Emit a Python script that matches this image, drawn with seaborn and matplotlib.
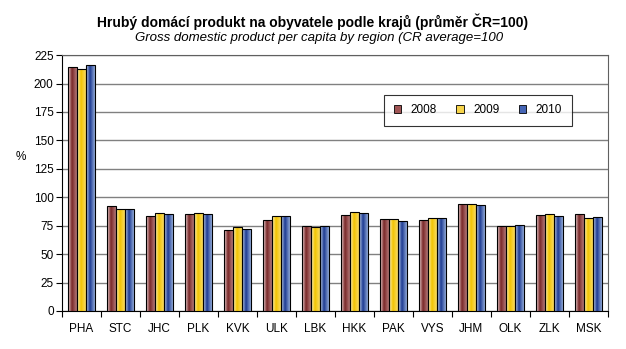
import matplotlib
matplotlib.use("Agg")
import matplotlib.pyplot as plt
import seaborn as sns
import numpy as np
import pandas as pd
from matplotlib.colors import LinearSegmentedColormap
from matplotlib.patches import Patch

regions = ["PHA", "STC", "JHC", "PLK", "KVK", "ULK", "LBK", "HKK", "PAK", "VYS", "JHM", "OLK", "ZLK", "MSK"]
v2008 = [215.0, 92.3, 83.5, 85.2, 71.2, 80.0, 74.4, 84.4, 80.5, 79.7, 93.7, 74.4, 84.4, 85.2]
v2009 = [212.4, 89.4, 85.8, 85.8, 73.5, 83.5, 73.5, 86.7, 80.5, 81.4, 93.7, 74.4, 85.2, 81.4]
v2010 = [216.0, 89.4, 85.2, 85.2, 72.0, 83.5, 74.4, 85.8, 78.8, 81.4, 93.1, 75.6, 83.5, 82.3]
years = ["2008", "2009", "2010"]

df = pd.DataFrame({
    "region": regions * 3,
    "value": v2008 + v2009 + v2010,
    "year": [y for y in years for _ in regions],
})

mid = {"2008": "#a05555", "2009": "#f7d44a", "2010": "#4565b5"}
grads = {
    "2008": ["#EED6D6", "#7A2828", "#C08A8A"],
    "2009": ["#FFF6C8", "#F2C200", "#FBE27A"],
    "2010": ["#C8D8F2", "#1C3A92", "#A9C0E6"],
}

plt.rcParams["font.family"] = ["Liberation Sans", "DejaVu Sans"]
fig = plt.figure(figsize=(6.26, 3.49), dpi=100)
ax = fig.add_axes([0.099, 0.109, 0.872, 0.733])

sns.barplot(data=df, x="region", y="value", hue="year", hue_order=years, palette=mid,
            saturation=1, width=0.7, edgecolor="black", linewidth=0.8, legend=False, ax=ax)

ax.set_xlim(-0.5, len(regions) - 0.5)
ax.set_ylim(0, 225)

cmaps = {y: LinearSegmentedColormap.from_list(y, list(zip([0, 0.4, 1], grads[y]))) for y in years}
grad = np.linspace(0, 1, 64).reshape(1, -1)
bars = [p for p in ax.patches if p.get_height() > 0]
n = len(regions)
for i, p in enumerate(bars):
    yr = years[min(i // n, 2)]
    x0, y0 = p.get_x(), p.get_y()
    w, h = p.get_width(), p.get_height()
    im = ax.imshow(grad, cmap=cmaps[yr], aspect="auto", extent=[x0, x0 + w, y0, y0 + h],
                   zorder=3.5, interpolation="bilinear")
    im.set_clip_path(p)
    p.set_facecolor("none")
    p.set_zorder(4)

ax.set_xlim(-0.5, len(regions) - 0.5)
ax.set_ylim(0, 225)

ax.set_yticks(np.arange(0, 226, 25))
ax.yaxis.grid(True, color="#808080", linewidth=1.0, zorder=0)
ax.set_axisbelow(True)
ax.set_xticks(range(len(regions)))
ax.set_xticklabels(regions)
ax.set_xticks(np.arange(-0.5, len(regions), 1), minor=True)
ax.tick_params(axis="x", which="major", length=0, pad=9, labelsize=8.5)
ax.tick_params(axis="x", which="minor", length=4, direction="out", width=0.8)
ax.tick_params(axis="y", length=4, direction="out", width=0.8, labelsize=8.5, pad=2)
for s in ax.spines.values():
    s.set_color("black")
    s.set_linewidth(0.8)
ax.spines["top"].set_color("#606060")
ax.spines["right"].set_color("#606060")
ax.set_xlabel("")
ax.set_ylabel("%", rotation=0, fontsize=8.5, labelpad=0)
ax.yaxis.set_label_coords(-0.075, 0.58)

handles = [Patch(facecolor=mid[y], edgecolor="black", linewidth=0.6) for y in years]
leg = ax.legend(handles, years, loc="center", bbox_to_anchor=(0.762, 0.785), ncol=3,
                fontsize=8.5, frameon=True, fancybox=False, edgecolor="black",
                handlelength=0.6, handleheight=0.6, columnspacing=1.7, handletextpad=0.8,
                borderpad=0.8)
leg.get_frame().set_linewidth(0.8)
leg.set_zorder(10)

fig.text(0.500, 0.937, "Hrubý domácí produkt na obyvatele podle krajů (průměr ČR=100)",
         ha="center", va="center", fontsize=10, fontweight="bold")
fig.text(0.510, 0.890, "Gross domestic product per capita by region (CR average=100",
         ha="center", va="center", fontsize=9.5, fontstyle="italic")

fig.savefig("out.png", dpi=100)
